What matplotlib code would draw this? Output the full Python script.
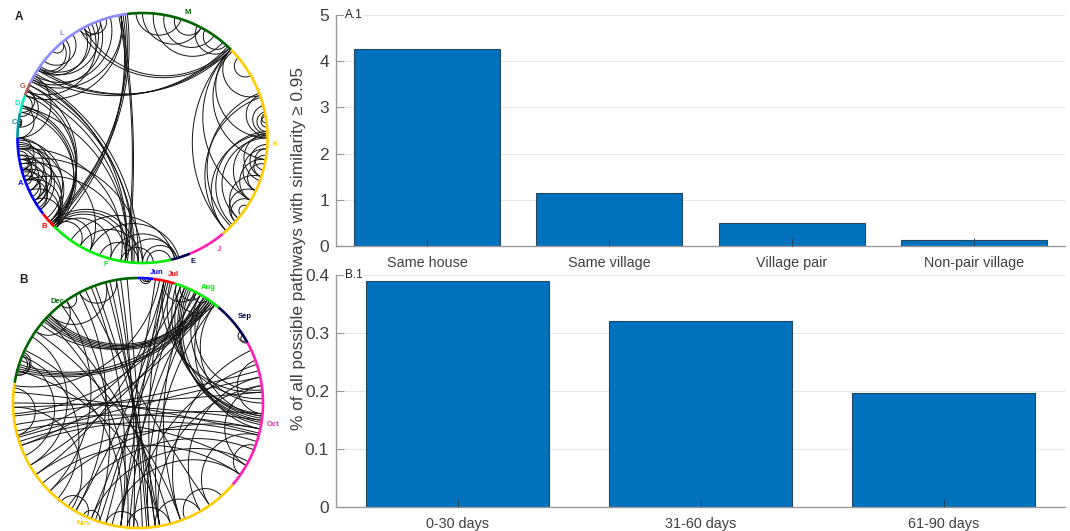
import numpy as np
import matplotlib
matplotlib.use("Agg")
import matplotlib.pyplot as plt

plt.rcParams['font.family'] = ['Liberation Sans', 'DejaVu Sans']

# bar charts
place_labels = ["Same house", "Same village", "Village pair", "Non-pair village"]
place_values = [4.27, 1.15, 0.50, 0.14]
time_labels = ["0-30 days", "31-60 days", "61-90 days"]
time_values = [0.39, 0.32, 0.197]

# chord diagram A: group names, group edge angles (deg, start at 97 going ccw)
groups_a = ["L", "G", "D", "C", "A", "B", "F", "E", "J", "K", "M"]
edges_a = [97, 154, 160, 168.5, 180, 217.3, 225, 283.2, 292.4, 310, 405, 457]
links_a = [
    (46, 147), (47, 149), (45, 146), (46, 118), (45, 120),
    (90, 62), (85, 50), (80, 55), (60, 48), (64, 46), (93, 72), (75, 62),
    (100, 263), (101, 262), (98, 222), (99, 223), (97, 224), (100, 226),
    (152, 262), (153, 265), (155, 266), (151, 268), (158, 262), (165, 262),
    (168, 225), (166, 224), (165, 226), (160, 224), (158, 223), (155, 222),
    (182, 205), (185, 200), (188, 210), (190, 205), (192, 212), (195, 208), (196, 214), (198, 210),
    (200, 215), (185, 215), (183, 212), (186, 195), (188, 198), (190, 200), (194, 202),
    (180, 195), (180, 210), (181, 220), (184, 222), (190, 222), (195, 224),
    (200, 224), (205, 224), (210, 226),
    (172, 175), (171, 174), (172, 174.5),
    (226, 255), (225, 262), (224, 265), (223, 268), (224, 245), (225, 240),
    (235, 285), (245, 287), (255, 285), (262, 286), (270, 286), (240, 270), (250, 268), (260, 275),
    (272, 283),
    (190, 270), (200, 262), (185, 260), (192, 245),
    (147, 128), (146, 130), (142, 124), (147, 118), (145, 116),
    (136, 130), (118, 107), (120, 110), (146, 112),
    (100, 153), (105, 150), (110, 152), (114, 158), (100, 160),
    (157, 168), (160, 170), (158, 175), (150, 180), (165, 180),
    (2, -48), (3, -44), (0, -40), (19, -48), (21, -45),
    (45, -48), (45, -30), (44, -10), (45, 0), (45, 20), (40, 30),
    (2, 15), (1, 20), (3, 12), (5, 10), (7, 11),
    (-18, -8), (-15, -5), (-18, -40), (-30, -42), (-33, -38),
    (-25, -42), (-10, -30), (-5, -25), (-12, -25), (-3, -18),
    (2, -20), (1, -30),
]

# chord diagram B: months
groups_b = ["Dec", "Nov", "Oct", "Sep", "Aug", "Jul", "Jun"]
edges_b = [90, 170.7, 319.3, 389, 410, 433, 443, 450]
links_b = [
    (137, 55), (138, 54), (136, 56), (135, 57), (139, 53), (141, 58),
    (164, 56), (163, 55), (165, 54), (162, 58),
    (158, 166), (157, 167), (156, 167),
    (88, 85), (87, 84), (89, 84),
    (100, 118), (120, 128), (105, 135), (125, 145),
    (68, -8), (67, -9), (66, -10), (65, -7), (70, -6), (72, -5),
    (60, 0), (75, 2), (78, 5), (58, 6), (55, -12), (52, -6),
    (100, 272), (95, 275), (105, 278), (110, 280), (112, 262), (78, 262),
    (82, 255), (74, 252), (68, 266), (60, 262), (58, 275), (98, 268),
    (103, 274), (77, 278), (63, 290), (52, 280),
    (200, -15), (190, -12), (198, -5), (182, 5),
    (193, -30), (215, -18), (220, -35), (196, 12),
    (175, -14), (180, -8), (186, 15), (225, -12),
    (236, -22), (248, -28), (258, -35), (268, 18),
    (280, 8), (290, 25), (300, 12), (305, -15),
    (165, 280), (155, 262), (145, 290), (135, 285),
    (125, 250), (115, 305), (118, 240), (128, 225),
    (148, 210), (160, 205), (158, 230), (138, 265),
    (78, 215), (70, 195), (62, 185), (54, 200),
    (76, 240), (68, 248), (60, 210), (80, 172),
    (78, 62), (72, 52), (70, 60), (63, 56),
    (35, 30), (33, 29), (20, -5), (8, -30), (-20, -35),
    (173, 195), (182, 238), (232, 246), (244, 252),
    (255, 270), (265, 285), (278, 300), (292, 312),
]

R = 125.0


def chord(ax, a, b, r):
    # circle arc that meets the ring at right angles
    a, b = np.radians(a), np.radians(b)
    d = (b - a + np.pi) % (2 * np.pi) - np.pi
    t = np.linspace(0, 1, 60)
    if abs(abs(d) - np.pi) < 0.01:
        x0, y0, x1, y1 = r * np.cos(a), r * np.sin(a), r * np.cos(b), r * np.sin(b)
        ax.plot(x0 + (x1 - x0) * t, y0 + (y1 - y0) * t, color="#111111", lw=0.7)
        return
    m = a + d / 2
    cdist = r / np.cos(d / 2)
    rad = r * abs(np.tan(d / 2))
    cx, cy = cdist * np.cos(m), cdist * np.sin(m)
    p0 = np.arctan2(r * np.sin(a) - cy, r * np.cos(a) - cx)
    p1 = np.arctan2(r * np.sin(b) - cy, r * np.cos(b) - cx)
    dp = (p1 - p0 + np.pi) % (2 * np.pi) - np.pi
    ang = p0 + dp * t
    ax.plot(cx + rad * np.cos(ang), cy + rad * np.sin(ang), color="#111111", lw=0.7)


def draw_ring(ax, edges, colors):
    for i in range(len(colors)):
        th = np.radians(np.linspace(edges[i], edges[i + 1], 60))
        ax.plot(R * np.cos(th), R * np.sin(th), color=colors[i], lw=1.9, solid_capstyle="butt", zorder=3)


def px_axes(fig, left, top, w, h):
    return fig.add_axes([left / 1070, 1 - (top + h) / 531, w / 1070, h / 531])


fig = plt.figure(figsize=(10.7, 5.31), dpi=100)

# circle A
cols_a = ["#8C8CFF", "#A85A5A", "#00F0C0", "#009A9A", "#0000FF", "#FF0000", "#00EE00",
          "#00004F", "#FF1FB4", "#FFCC00", "#006400"]
lab_a = [(127.6, 1.06), (156.6, 1.047), (164.4, 1.04), (173, 1.03), (200.5, 1.045), (222, 1.056),
         (253.8, 1.05), (-67.8, 1.068), (-55.5, 1.08), (-3, 1.065), (70, 1.067)]
ax = px_axes(fig, 142.5 - 135, 138 - 135, 270, 270)
ax.set_xlim(-135, 135)
ax.set_ylim(-135, 135)
ax.axis("off")
for a, b in links_a:
    chord(ax, a, b, R)
draw_ring(ax, edges_a, cols_a)
for name, c, (an, k) in zip(groups_a, cols_a, lab_a):
    ax.text(k * R * np.cos(np.radians(an)), k * R * np.sin(np.radians(an)), name, color=c,
            fontsize=5.5, fontweight="bold", ha="center", va="center", clip_on=False)

# circle B
cols_b = ["#006400", "#FFCC00", "#FF1FB4", "#00004F", "#00EE00", "#FF0000", "#0000FF"]
lab_b = [(128.4, 1.04), (245.6, 1.06), (-9, 1.097), (38.8, 1.098), (58.6, 1.085), (74.7, 1.065), (82, 1.058)]
ax = px_axes(fig, 138 - 135, 403 - 135, 270, 270)
ax.set_xlim(-135, 135)
ax.set_ylim(-135, 135)
ax.axis("off")
for a, b in links_b:
    chord(ax, a, b, R)
draw_ring(ax, edges_b, cols_b)
for name, c, (an, k) in zip(groups_b, cols_b, lab_b):
    ax.text(k * R * np.cos(np.radians(an)), k * R * np.sin(np.radians(an)), name, color=c,
            fontsize=5.5, fontweight="bold", ha="center", va="center", clip_on=False)

fig.text(19 / 1070, 1 - 17 / 531, "A", fontsize=8.5, fontweight="bold", color="#222222", ha="center", va="center")
fig.text(23 / 1070, 1 - 280 / 531, "B", fontsize=8.5, fontweight="bold", color="#222222", ha="center", va="center")


def bar_panel(top, h, labels, values, width, ymax, yticks, tag):
    ax = px_axes(fig, 336, top, 729, h)
    x = np.arange(1, len(values) + 1)
    ax.bar(x, values, width=width, color="#0072BD", edgecolor="#24465e", linewidth=0.8, zorder=2)
    ax.set_xlim(0.5, len(values) + 0.5)
    ax.set_ylim(0, ymax)
    ax.set_xticks(x, labels)
    ax.set_yticks(yticks, ["{:g}".format(v) for v in yticks])
    for v in yticks[1:]:
        ax.axhline(v, color="#e6e6e6", lw=0.8, zorder=1)
    ax.set_axisbelow(False)
    ax.spines["top"].set_visible(False)
    ax.spines["right"].set_visible(False)
    for s in ("left", "bottom"):
        ax.spines[s].set_color("#9a9a9a")
        ax.spines[s].set_linewidth(1.0)
    ax.tick_params(axis="x", direction="in", length=6, width=0.7, color="#24465e",
                   labelsize=10.4, labelcolor="#404040", pad=7)
    ax.tick_params(axis="y", direction="in", length=6, width=0.8, color="#9a9a9a",
                   labelsize=12.5, labelcolor="#404040", pad=5)
    ax.text(0.5 + 9 / (729 / (len(values))), ymax, tag, fontsize=8.5, color="#222222", ha="left", va="center",
            clip_on=False, zorder=5, bbox=dict(fc="white", ec="none", pad=0.5))
    return ax


bar_panel(15, 231, place_labels, place_values, 0.8, 5, [0, 1, 2, 3, 4, 5], "A.1")
bar_panel(275, 232, time_labels, time_values, 0.75, 0.4, [0, 0.1, 0.2, 0.3, 0.4], "B.1")

fig.text(298 / 1070, 1 - 248 / 531, "% of all possible pathways with similarity \u2265 0.95", rotation=90,
         fontsize=12.4, color="#404040", ha="center", va="center")

fig.savefig("out.png", dpi=100)
